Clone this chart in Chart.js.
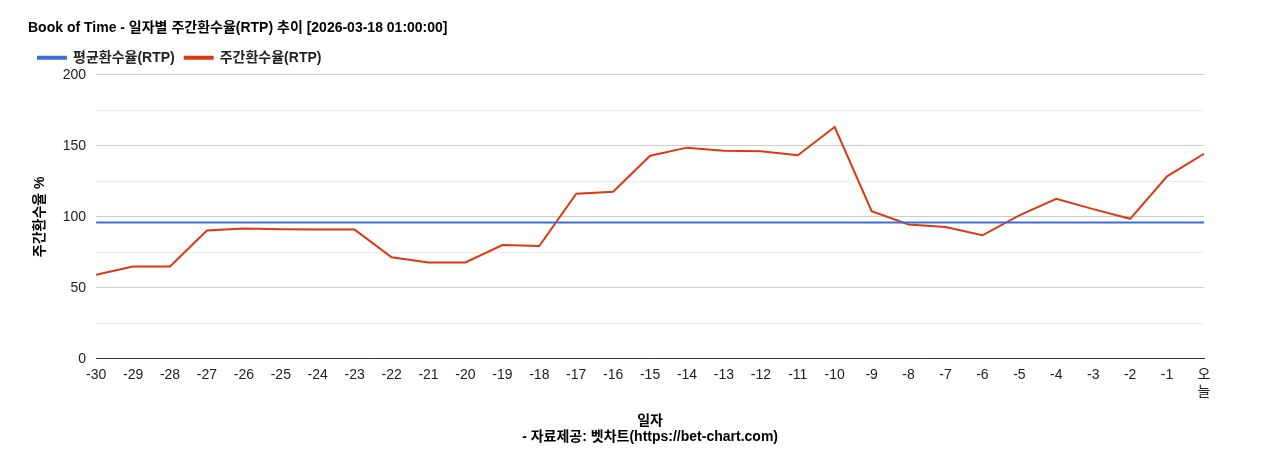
<!DOCTYPE html>
<html>
<head>
<meta charset="utf-8">
<script src="https://cdn.jsdelivr.net/npm/chart.js@4"></script>
<style>
  body { margin: 0; background: #fff; }
</style>
</head>
<body>
<canvas id="rtp-chart" width="1268" height="450"></canvas>
<script>
// categories
const days = ['-30','-29','-28','-27','-26','-25','-24','-23','-22','-21','-20','-19','-18','-17','-16',
              '-15','-14','-13','-12','-11','-10','-9','-8','-7','-6','-5','-4','-3','-2','-1',['오','늘']];

// weekly RTP (%)
const weeklyRtp = [59.2, 65, 65, 90.3, 91.7, 91.3, 91, 91, 71.5, 67.9, 67.9, 80.1, 79.4, 116.2, 117.7,
                   143, 148.7, 146.6, 146.2, 143.3, 163.2, 104, 94.6, 92.8, 87, 101, 112.6, 105.4, 98.6, 128.5, 144.4];

// average RTP (%)
const avgRtp = days.map(() => 96);

const font = "'Liberation Sans', 'Noto Sans CJK KR', sans-serif";
Chart.defaults.font.family = font;
Chart.defaults.color = '#222';

const ctx = document.getElementById('rtp-chart').getContext('2d');

new Chart(ctx, {
    type: 'line',
    data: {
        labels: days,
        datasets: [
            {
                label: '평균환수율(RTP)',
                data: avgRtp,
                borderColor: '#3b6fd8',
                borderWidth: 2,
                pointRadius: 0,
                tension: 0
            },
            {
                label: '주간환수율(RTP)',
                data: weeklyRtp,
                borderColor: '#dc3912',
                borderWidth: 2,
                pointRadius: 0,
                tension: 0
            }
        ]
    },
    options: {
        responsive: false,
        animation: false,
        layout: { padding: { left: 28, right: 64, top: 8 } },
        plugins: {
            title: {
                display: true,
                text: 'Book of Time - 일자별 주간환수율(RTP) 추이 [2026-03-18 01:00:00]',
                align: 'start',
                font: { size: 14, weight: 'bold' },
                color: '#000',
                padding: { top: 12, bottom: 4 }
            },
            legend: {
                align: 'start',
                labels: {
                    boxWidth: 28,
                    boxHeight: 2,
                    font: { size: 14, weight: 'bold' },
                    color: '#222'
                }
            }
        },
        scales: {
            x: {
                grid: { display: false, drawTicks: false },
                border: { color: '#333' },
                ticks: { font: { size: 14 }, maxRotation: 0, autoSkip: false, padding: 8 },
                title: {
                    display: true,
                    text: ['일자', '- 자료제공: 벳차트(https://bet-chart.com)'],
                    font: { size: 14, weight: 'bold' },
                    color: '#000',
                    padding: { top: 4 }
                }
            },
            y: {
                min: 0,
                max: 200,
                ticks: {
                    stepSize: 25,
                    font: { size: 14 },
                    padding: 10,
                    callback: v => (v % 50 === 0 ? v : '')
                },
                grid: {
                    drawTicks: false,
                    color: c => (c.tick.value % 50 === 0 ? '#ccc' : '#ebebeb')
                },
                border: { display: false },
                title: {
                    display: true,
                    text: '주간환수율 %',
                    font: { size: 14, weight: 'bold' },
                    color: '#000'
                }
            }
        }
    }
});
</script>
</body>
</html>
